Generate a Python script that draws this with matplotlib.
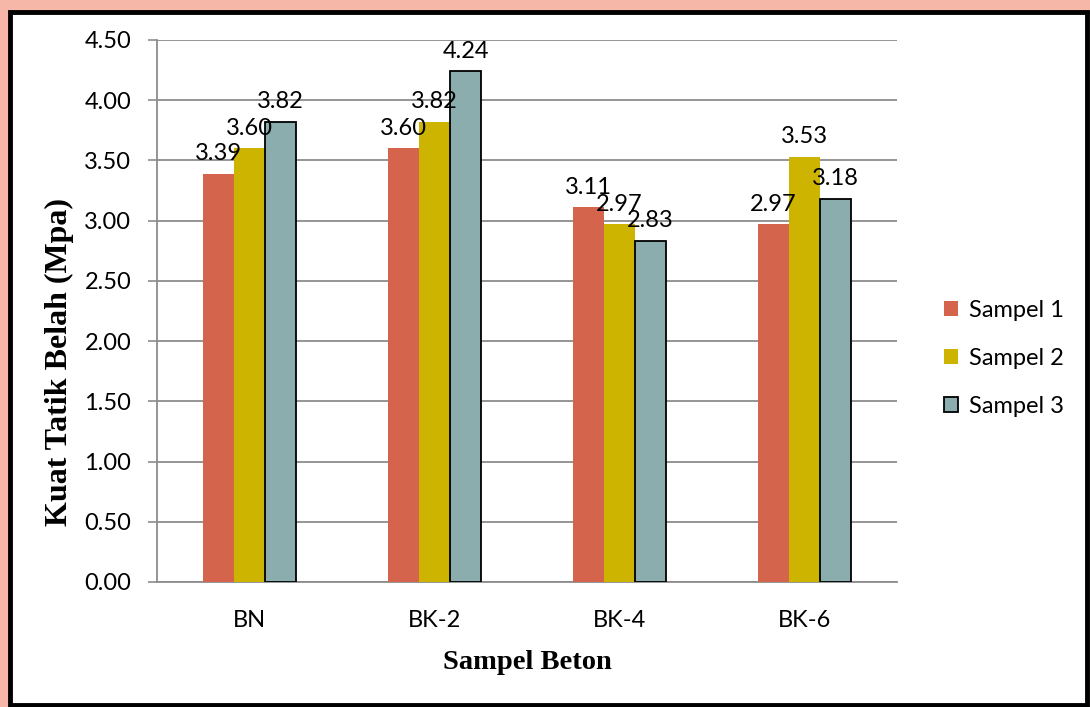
import matplotlib
matplotlib.use("Agg")
import matplotlib.pyplot as plt
from matplotlib.patches import Rectangle
import numpy as np

categories = ["BN", "BK-2", "BK-4", "BK-6"]
sampel_1 = [3.39, 3.60, 3.11, 2.97]
sampel_2 = [3.60, 3.82, 2.97, 3.53]
sampel_3 = [3.82, 4.24, 2.83, 3.18]
series_names = ["Sampel 1", "Sampel 2", "Sampel 3"]
yticks = [0.0, 0.5, 1.0, 1.5, 2.0, 2.5, 3.0, 3.5, 4.0, 4.5]

colors = ["#D4644B", "#CDB400", "#8BADAD"]
edges = ["none", "none", "black"]

W, H = 1090, 707
fig = plt.figure(figsize=(W / 100, H / 100), dpi=100)

# outer frame: salmon border with a black inner border
fig.patches.append(Rectangle((0, 0), 1, 1, transform=fig.transFigure,
                             facecolor="#F7B7A8", edgecolor="none", zorder=-3))
fig.patches.append(Rectangle((10 / W, 2 / H), (1077 / W), (693 / H),
                             transform=fig.transFigure, facecolor="white",
                             edgecolor="black", linewidth=3.5, zorder=-2))

ax = fig.add_axes([157 / W, 1 - 582 / H, 740 / W, 542 / H])
ax.set_facecolor("none")

font = "Lato"
fs = 17
x = np.arange(len(categories))
bw = 0.168
series = [sampel_1, sampel_2, sampel_3]
for i, (vals, name) in enumerate(zip(series, series_names)):
    pos = x + (i - 1) * bw
    bars = ax.bar(pos, vals, bw, color=colors[i], edgecolor=edges[i],
                  linewidth=1.3 if edges[i] != "none" else 0, label=name, zorder=3)
    for b, v in zip(bars, vals):
        ax.annotate(f"{v:.2f}", (b.get_x() + b.get_width() / 2, v),
                    xytext=(0, 7), textcoords="offset points",
                    ha="center", va="bottom", fontsize=fs, family=font, zorder=5)

ax.set_xlim(-0.5, len(categories) - 0.5)
ax.set_ylim(0, 4.5)
ax.set_yticks(yticks)
ax.set_yticklabels([f"{t:.2f}" for t in yticks], fontsize=fs, family=font)
ax.set_xticks(x)
ax.set_xticklabels(categories, fontsize=fs, family=font)
ax.tick_params(axis="x", length=0, pad=20)
ax.tick_params(axis="y", length=6.5, width=1.2, color="#8c8c8c", pad=12)

ax.yaxis.grid(True, color="#8c8c8c", linewidth=1.3, zorder=0)
ax.set_axisbelow(True)
for s in ["top", "right"]:
    ax.spines[s].set_visible(False)
ax.spines["left"].set_color("#8c8c8c")
ax.spines["left"].set_linewidth(1.3)
ax.spines["bottom"].set_color("#8c8c8c")
ax.spines["bottom"].set_linewidth(1.3)

ax.set_ylabel("Kuat Tatik Belah (Mpa)", family="Liberation Serif",
              fontweight="bold", fontsize=23)
ax.yaxis.set_label_coords(-0.112, 0.406)
ax.set_xlabel("Sampel Beton", family="Liberation Serif",
              fontweight="bold", fontsize=20.5, labelpad=14)

leg = ax.legend(loc="center left", bbox_to_anchor=(1.035, 0.413), frameon=False,
                prop={"family": font, "size": fs}, handlelength=0.6,
                handleheight=0.6, handletextpad=0.45, labelspacing=1.15)

fig.savefig("out.png", dpi=100)
